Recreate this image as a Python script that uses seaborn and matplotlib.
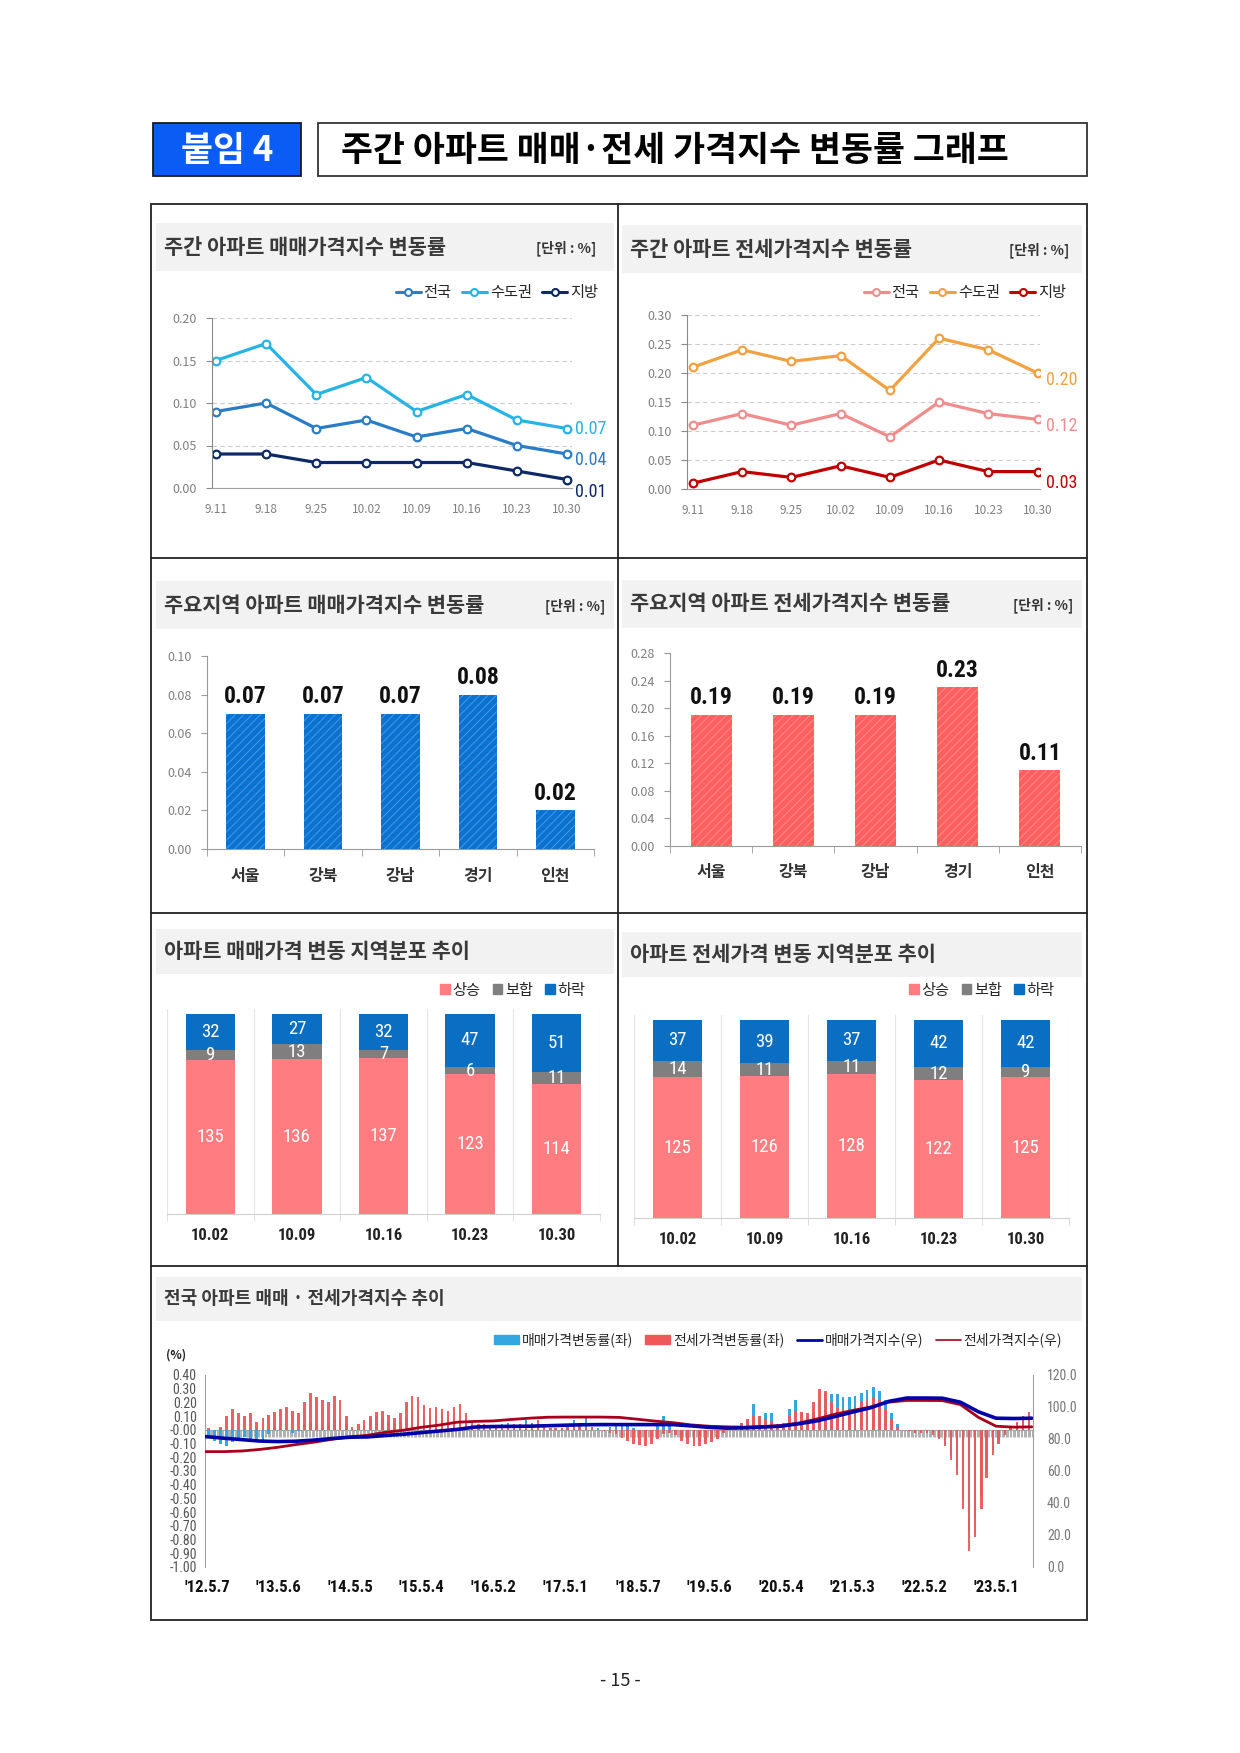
import matplotlib
matplotlib.use('Agg')
import matplotlib.pyplot as plt
from matplotlib import font_manager
from matplotlib.patches import Rectangle, Patch
from matplotlib.lines import Line2D
import seaborn as sns
import pandas as pd
import numpy as np

sns.set_style('white')
plt.rcParams['font.family'] = ['Noto Sans CJK KR', 'DejaVu Sans']
plt.rcParams['axes.unicode_minus'] = False
plt.rcParams['hatch.linewidth'] = 0.7

# narrow font for numbers, if one is installed
_names = {f.name for f in font_manager.fontManager.ttflist}
NARROW = 'DejaVu Sans'
for cand in ['Liberation Sans Narrow', 'Roboto Condensed']:
	if cand in _names:
		NARROW = cand
		break

W, H = 1240, 1753

# ---------------- data ----------------
weeks = ['9.11', '9.18', '9.25', '10.02', '10.09', '10.16', '10.23', '10.30']
sale_all = [0.09, 0.10, 0.07, 0.08, 0.06, 0.07, 0.05, 0.04]
sale_metro = [0.15, 0.17, 0.11, 0.13, 0.09, 0.11, 0.08, 0.07]
sale_local = [0.04, 0.04, 0.03, 0.03, 0.03, 0.03, 0.02, 0.01]
rent_all = [0.11, 0.13, 0.11, 0.13, 0.09, 0.15, 0.13, 0.12]
rent_metro = [0.21, 0.24, 0.22, 0.23, 0.17, 0.26, 0.24, 0.20]
rent_local = [0.01, 0.03, 0.02, 0.04, 0.02, 0.05, 0.03, 0.03]

regions = ['서울', '강북', '강남', '경기', '인천']
sale_region = [0.07, 0.07, 0.07, 0.08, 0.02]
rent_region = [0.19, 0.19, 0.19, 0.23, 0.11]

dist_weeks = ['10.02', '10.09', '10.16', '10.23', '10.30']
sale_up = [135, 136, 137, 123, 114]
sale_flat = [9, 13, 7, 6, 11]
sale_down = [32, 27, 32, 47, 51]
rent_up = [125, 126, 128, 122, 125]
rent_flat = [14, 11, 11, 12, 9]
rent_down = [37, 39, 37, 42, 42]

# weekly change rate (%), read per month, 2012.05 ~ 2023.10
months = pd.date_range('2012-05-01', '2023-10-01', freq='MS')
sale_chg = [
	-0.04, -0.08, -0.10, -0.12, -0.09, -0.06, -0.05, -0.07,                    # 2012
	-0.09, -0.08, -0.03, 0.02, 0.01, 0.00, -0.02, -0.01, 0.04, 0.05, 0.04, 0.03,  # 2013
	0.05, 0.07, 0.08, 0.04, 0.01, 0.00, 0.03, 0.08, 0.10, 0.09, 0.05, 0.04,      # 2014
	0.06, 0.09, 0.12, 0.14, 0.11, 0.10, 0.11, 0.10, 0.09, 0.09, 0.07, 0.04,      # 2015
	0.01, 0.00, 0.01, 0.02, 0.02, 0.04, 0.05, 0.04, 0.04, 0.07, 0.05, 0.02,      # 2016
	0.00, 0.00, 0.01, 0.01, 0.02, 0.07, 0.05, 0.09, 0.02, 0.01, 0.00, 0.02,      # 2017
	0.03, 0.04, 0.03, 0.01, -0.01, -0.02, -0.01, 0.03, 0.10, 0.05, -0.01, -0.04, # 2018
	-0.06, -0.07, -0.08, -0.08, -0.07, -0.05, -0.02, 0.00, 0.02, 0.05, 0.08, 0.19,  # 2019
	0.10, 0.12, 0.12, 0.03, 0.01, 0.15, 0.22, 0.12, 0.10, 0.13, 0.22, 0.27,      # 2020
	0.26, 0.26, 0.24, 0.24, 0.25, 0.27, 0.29, 0.31, 0.28, 0.22, 0.12, 0.04,      # 2021
	0.00, -0.01, -0.02, -0.01, -0.01, -0.03, -0.06, -0.10, -0.18, -0.28, -0.50, -0.74,  # 2022
	-0.65, -0.48, -0.30, -0.15, -0.08, -0.03, 0.01, 0.05, 0.08, 0.07,              # 2023
]
rent_chg = [
	0.01, 0.00, 0.02, 0.10, 0.15, 0.12, 0.10, 0.12,
	0.06, 0.09, 0.11, 0.13, 0.15, 0.17, 0.14, 0.12, 0.20, 0.27, 0.24, 0.22,
	0.20, 0.25, 0.22, 0.10, 0.02, 0.04, 0.07, 0.10, 0.13, 0.14, 0.11, 0.09,
	0.12, 0.20, 0.25, 0.24, 0.18, 0.16, 0.17, 0.15, 0.14, 0.17, 0.19, 0.12,
	0.05, 0.04, 0.04, 0.03, 0.03, 0.03, 0.03, 0.04, 0.04, 0.05, 0.04, 0.07,
	0.03, 0.01, 0.01, 0.01, 0.01, 0.02, 0.02, 0.02, 0.01, 0.00, -0.01, -0.02,
	-0.03, -0.06, -0.08, -0.10, -0.11, -0.12, -0.10, -0.07, -0.03, -0.02, -0.04, -0.08,
	-0.10, -0.12, -0.12, -0.10, -0.09, -0.07, -0.02, 0.00, 0.03, 0.05, 0.08, 0.10,
	0.10, 0.08, 0.06, 0.04, 0.05, 0.10, 0.14, 0.13, 0.12, 0.20, 0.30, 0.28,
	0.20, 0.16, 0.15, 0.13, 0.17, 0.20, 0.22, 0.24, 0.22, 0.15, 0.08, 0.02,
	0.00, -0.01, -0.02, -0.02, -0.02, -0.04, -0.07, -0.12, -0.22, -0.33, -0.58, -0.88,
	-0.78, -0.58, -0.35, -0.18, -0.10, -0.04, 0.02, 0.06, 0.10, 0.13,
]
# price index (right axis), read every 3 months
idx_dates = pd.to_datetime(list(pd.date_range('2012-05-01', '2023-08-01', freq='3MS')) + ['2023-10-30'])
sale_idx = [81.5, 80.5, 79.6, 78.7, 78.4, 78.6, 79.3, 80.3, 81.1, 81.3, 82.2, 83.0,
	84.0, 85.0, 86.0, 87.5, 87.8, 87.9, 88.0, 88.3, 88.6, 88.9, 89.0, 89.0,
	89.0, 89.0, 89.0, 88.2, 87.3, 86.8, 87.0, 87.5, 88.0, 89.5, 91.3, 94.0,
	96.8, 99.5, 103.5, 105.6, 105.6, 105.5, 103.0, 97.0, 93.0, 92.8, 93.0]
rent_idx = [72.1, 72.1, 72.5, 73.5, 74.8, 76.5, 78.0, 79.8, 81.3, 82.3, 84.2, 85.5,
	87.3, 88.7, 90.5, 91.0, 91.3, 92.2, 93.0, 93.6, 93.7, 93.7, 93.7, 93.5,
	92.4, 91.2, 90.2, 88.8, 88.0, 87.6, 87.4, 87.8, 88.4, 90.0, 92.5, 95.5,
	97.8, 100.0, 103.0, 104.1, 104.1, 104.0, 101.5, 93.5, 88.0, 87.4, 87.6]
tick_dates = pd.to_datetime(['2012-05-07', '2013-05-06', '2014-05-05', '2015-05-04', '2016-05-02', '2017-05-01',
	'2018-05-07', '2019-05-06', '2020-05-04', '2021-05-03', '2022-05-02', '2023-05-01'])
tick_labels = ["'12.5.7", "'13.5.6", "'14.5.5", "'15.5.4", "'16.5.2", "'17.5.1",
	"'18.5.7", "'19.5.6", "'20.5.4", "'21.5.3", "'22.5.2", "'23.5.1"]

# colors
C_S_ALL, C_S_METRO, C_S_LOCAL = '#2a7cc7', '#27b3e4', '#0d2a66'
C_R_ALL, C_R_METRO, C_R_LOCAL = '#f08c8c', '#f0a142', '#c00000'
C_UP, C_FLAT, C_DOWN = '#ff7c80', '#7f7f7f', '#0a6fc2'
GRAY_TXT = '#7f7f7f'

fig = plt.figure(figsize=(12.4, 17.53), dpi=100)
fig.patch.set_facecolor('white')


# helpers in page pixel coords (top-left origin)
def box(x0, y0, x1, y1, **kw):
	fig.add_artist(Rectangle((x0/W, 1-y1/H), (x1-x0)/W, (y1-y0)/H, transform=fig.transFigure, **kw))

def hline(x0, x1, y, **kw):
	fig.add_artist(Line2D([x0/W, x1/W], [1-y/H, 1-y/H], transform=fig.transFigure, **kw))

def vline(x, y0, y1, **kw):
	fig.add_artist(Line2D([x/W, x/W], [1-y0/H, 1-y1/H], transform=fig.transFigure, **kw))

def ftext(x, y, s, **kw):
	fig.text(x/W, 1-y/H, s, **kw)

def axes_at(x0, y0, x1, y1):
	return fig.add_axes([x0/W, 1-y1/H, (x1-x0)/W, (y1-y0)/H])

def panel_title(x0, x1, y0, y1, text, unit=None, unit_x=None, size=15):
	box(x0, y0, x1, y1, fc='#f2f2f2', ec='none', zorder=0)
	ftext(x0+8, (y0+y1)/2, text, fontsize=size, fontweight='bold', color='#3a3a3a', va='center')
	if unit:
		ftext(unit_x, (y0+y1)/2+1, unit, fontsize=10, fontweight='bold', color='#333333', va='center')


# ---------------- header ----------------
box(153, 123, 301, 176, fc='#0a5cf5', ec='#1a1a1a', lw=1.3)
ftext(227, 150, '붙임 4', fontsize=25, fontweight='bold', color='white', ha='center', va='center')
box(318, 123, 1087, 176, fc='white', ec='#333333', lw=1.3)
ftext(341, 150, '주간 아파트 매매·전세 가격지수 변동률 그래프', fontsize=25, fontweight='bold', color='black', va='center')

# frame
box(151, 204, 1087, 1620, fc='none', ec='#222222', lw=1.3, zorder=5)
vline(618, 204, 1266, color='#222222', lw=1.3, zorder=5)
for y in [558, 913, 1266]:
	hline(151, 1087, y, color='#222222', lw=1.3, zorder=5)

panel_title(156, 614, 223, 271, '주간 아파트 매매가격지수 변동률', '[단위 : %]', 536)
panel_title(622, 1082, 225, 273, '주간 아파트 전세가격지수 변동률', '[단위 : %]', 1009)
panel_title(156, 614, 581, 629, '주요지역 아파트 매매가격지수 변동률', '[단위 : %]', 545)
panel_title(622, 1082, 580, 628, '주요지역 아파트 전세가격지수 변동률', '[단위 : %]', 1013)
panel_title(156, 614, 929, 974, '아파트 매매가격 변동 지역분포 추이')
panel_title(622, 1082, 932, 977, '아파트 전세가격 변동 지역분포 추이')
panel_title(156, 1082, 1277, 1321, '전국 아파트 매매 · 전세가격지수 추이', size=13)


# ---------------- weekly line charts ----------------
def weekly_lines(ax, series, ymax, step, xlim, end_dy):
	for vals, c, lab in series:
		sns.lineplot(x=list(range(len(weeks))), y=vals, ax=ax, color=c, linewidth=2.3, marker='o', markersize=5.5,
			markerfacecolor='white', markeredgecolor=c, markeredgewidth=1.6, label=lab, legend=False)
	ax.set_xlim(*xlim)
	ax.set_ylim(0, ymax)
	ax.set_yticks(np.arange(0, ymax+1e-9, step))
	ax.set_yticklabels(['%.2f' % v for v in np.arange(0, ymax+1e-9, step)])
	ax.set_xticks(range(len(weeks)))
	ax.set_xticklabels(weeks)
	ax.grid(axis='y', ls=(0, (4, 3)), color='#cccccc', lw=0.8)
	ax.grid(axis='x', visible=False)
	ax.set_axisbelow(True)
	sns.despine(ax=ax)
	ax.spines['left'].set_color('#8a8a8a')
	ax.spines['bottom'].set_color('#a0a0a0')
	ax.tick_params(axis='x', length=0, pad=11, labelsize=8.5, labelcolor=GRAY_TXT)
	ax.tick_params(axis='y', length=4, color='#8a8a8a', left=True, pad=7, labelsize=9, labelcolor=GRAY_TXT)
	ax.set_xlabel('')
	ax.set_ylabel('')
	for (vals, c, lab), dy in zip(series, end_dy):
		ax.annotate('%.2f' % vals[-1], (len(weeks)-1, vals[-1]), xytext=(6, dy), textcoords='offset points',
			va='center', ha='left', color=c, fontsize=13, family=NARROW, annotation_clip=False)

def line_legend(series, cx, cy):
	handles = [Line2D([], [], color=c, lw=2.2, marker='o', ms=5, mfc='white', mec=c, mew=1.5) for _, c, _ in series]
	fig.legend(handles, [lab for _, _, lab in series], loc='center', bbox_to_anchor=(cx/W, 1-cy/H), ncol=3,
		frameon=False, fontsize=11, handlelength=1.6, handletextpad=0.2, columnspacing=0.7)

s1 = [(sale_metro, C_S_METRO, '수도권'), (sale_all, C_S_ALL, '전국'), (sale_local, C_S_LOCAL, '지방')]
ax1 = axes_at(212, 318, 572, 488)
weekly_lines(ax1, s1, 0.20, 0.05, (-0.08, 7.1), [0, -4, -9])
line_legend([s1[1], s1[0], s1[2]], 497, 293)

s2 = [(rent_metro, C_R_METRO, '수도권'), (rent_all, C_R_ALL, '전국'), (rent_local, C_R_LOCAL, '지방')]
ax2 = axes_at(687, 315, 1040, 489)
weekly_lines(ax2, s2, 0.30, 0.05, (-0.12, 7.05), [-5, -5, -8])
line_legend([s2[1], s2[0], s2[2]], 965, 293)


# ---------------- regional bar charts ----------------
def region_bars(ax, vals, color, hatch_color, ymax, step, pad):
	sns.barplot(x=regions, y=vals, ax=ax, color=color, saturation=1, width=0.5, errorbar=None,
		hatch='////', edgecolor=hatch_color, linewidth=0)
	ax.set_xlim(-0.5, len(regions)-0.5)
	ax.set_ylim(0, ymax)
	ticks = np.arange(0, ymax+1e-9, step)
	ax.set_yticks(ticks)
	ax.set_yticklabels(['%.2f' % v for v in ticks])
	ax.set_xticks(np.arange(-0.5, len(regions)), minor=True)
	sns.despine(ax=ax)
	ax.spines['left'].set_color('#9a9a9a')
	ax.spines['bottom'].set_color('#9a9a9a')
	ax.tick_params(axis='x', which='major', length=0, pad=pad, labelsize=11.5, labelcolor='#333333')
	ax.tick_params(axis='x', which='minor', length=5, color='#9a9a9a', bottom=True)
	ax.tick_params(axis='y', length=4, color='#9a9a9a', left=True, pad=7, labelsize=9, labelcolor=GRAY_TXT)
	for lab in ax.get_xticklabels():
		lab.set_fontweight('bold')
	ax.set_xlabel('')
	ax.set_ylabel('')
	for i, v in enumerate(vals):
		ax.annotate('%.2f' % v, (i, v), xytext=(0, 4), textcoords='offset points', ha='center', va='bottom',
			fontsize=17, fontweight='bold', family=NARROW, color='#111111')

ax3 = axes_at(207, 656, 594, 849)
region_bars(ax3, sale_region, '#0a72cf', '#4a9ae3', 0.10, 0.02, 14)
ax4 = axes_at(670, 653, 1081, 846)
region_bars(ax4, rent_region, '#ff5f5f', '#ff8c8c', 0.28, 0.04, 13)


# ---------------- regional distribution (stacked) ----------------
def dist_bars(ax, up, flat, down):
	total = [u+f+d for u, f, d in zip(up, flat, down)]
	mid = [u+f for u, f in zip(up, flat)]
	sns.barplot(x=dist_weeks, y=total, ax=ax, color=C_DOWN, saturation=1, width=0.57, errorbar=None, linewidth=0)
	sns.barplot(x=dist_weeks, y=mid, ax=ax, color=C_FLAT, saturation=1, width=0.57, errorbar=None, linewidth=0)
	sns.barplot(x=dist_weeks, y=up, ax=ax, color=C_UP, saturation=1, width=0.57, errorbar=None, linewidth=0)
	ax.set_xlim(-0.5, len(dist_weeks)-0.5)
	ax.set_ylim(0, 180)
	ax.set_yticks([])
	ax.set_xticks(np.arange(-0.5, len(dist_weeks)), minor=True)
	ax.grid(axis='x', which='minor', color='#e3e3e3', lw=0.8)
	ax.grid(axis='x', which='major', visible=False)
	ax.set_axisbelow(True)
	for s in ['top', 'right', 'left']:
		ax.spines[s].set_visible(False)
	ax.spines['bottom'].set_color('#d0d0d0')
	ax.tick_params(axis='x', which='major', length=0, pad=10, labelsize=12, labelcolor='#222222')
	ax.tick_params(axis='x', which='minor', length=5, color='#d8d8d8', bottom=True)
	for lab in ax.get_xticklabels():
		lab.set_fontweight('bold')
		lab.set_family(NARROW)
	ax.set_xlabel('')
	ax.set_ylabel('')
	for i in range(len(dist_weeks)):
		for y, v in [(up[i]/2, up[i]), (up[i]+flat[i]/2, flat[i]), (mid[i]+down[i]/2, down[i])]:
			ax.text(i, y, str(v), ha='center', va='center', color='white', fontsize=13.5, family=NARROW)

def dist_legend(cx, cy):
	handles = [Patch(color=c) for c in [C_UP, C_FLAT, C_DOWN]]
	fig.legend(handles, ['상승', '보합', '하락'], loc='center', bbox_to_anchor=(cx/W, 1-cy/H), ncol=3,
		frameon=False, fontsize=11, handlelength=0.6, handleheight=0.6, handletextpad=0.2, columnspacing=0.8)

ax5 = axes_at(167, 1009, 600, 1214)
dist_bars(ax5, sale_up, sale_flat, sale_down)
dist_legend(513, 990)
ax6 = axes_at(634, 1015, 1069, 1218)
dist_bars(ax6, rent_up, rent_flat, rent_down)
dist_legend(982, 990)


# ---------------- long-term index chart ----------------
ax7 = axes_at(205, 1375, 1033, 1567)
bar_x = months + pd.Timedelta(days=14)
ax7.bar(bar_x, sale_chg, width=13, color='#33a8e0', linewidth=0)
ax7.bar(bar_x, rent_chg, width=13, color='#ef5759', linewidth=0, alpha=0.95)
ax7.set_xlim(pd.Timestamp('2012-04-27'), pd.Timestamp('2023-11-05'))
ax7.set_ylim(-1.0, 0.4)
yt = np.round(np.arange(-1.0, 0.41, 0.1), 2)
ax7.set_yticks(yt)
ax7.set_yticklabels(['%.2f' % v for v in yt])
ax7.set_xticks(tick_dates)
ax7.set_xticklabels(tick_labels)
for s in ['top', 'right', 'bottom']:
	ax7.spines[s].set_visible(False)
ax7.spines['left'].set_color('#a0a0a0')
ax7.tick_params(axis='x', length=0, pad=9, labelsize=12, labelcolor='#111111')
ax7.tick_params(axis='y', length=0, pad=6, labelsize=10, labelcolor='#555555')
for lab in ax7.get_xticklabels():
	lab.set_fontweight('bold')
	lab.set_family(NARROW)
for lab in ax7.get_yticklabels():
	lab.set_family(NARROW)

# zero line with a comb of week marks, like the category axis
zero_pos = (0 - (-1.0)) / 1.4
sec = ax7.secondary_xaxis(zero_pos)
sec.set_xticks(pd.date_range('2012-05-07', '2023-10-30', freq='7D'))
sec.tick_params(axis='x', direction='in', length=5, width=0.6, color='#a3a3a3', labeltop=False, labelbottom=False)
sec.spines['top'].set_color('#a3a3a3')
sec.spines['top'].set_linewidth(0.8)

ax7b = ax7.twinx()
sns.lineplot(x=idx_dates, y=rent_idx, ax=ax7b, color='#a8001c', linewidth=2.0)
sns.lineplot(x=idx_dates, y=sale_idx, ax=ax7b, color='#0000a8', linewidth=2.6)
ax7b.set_ylim(0, 120)
ax7b.set_yticks(np.arange(0, 121, 20))
ax7b.set_yticklabels(['%.1f' % v for v in np.arange(0, 121, 20)])
for s in ['top', 'left', 'bottom']:
	ax7b.spines[s].set_visible(False)
ax7b.spines['right'].set_color('#a0a0a0')
ax7b.tick_params(axis='y', length=0, pad=10, labelsize=10, labelcolor='#777777')
for lab in ax7b.get_yticklabels():
	lab.set_family(NARROW)
ax7b.set_ylabel('')
ax7b.set_xlabel('')
ax7.set_xlim(pd.Timestamp('2012-04-27'), pd.Timestamp('2023-11-05'))

ftext(176, 1355, '(%)', fontsize=8.5, fontweight='bold', color='#222222', ha='center', va='center')

leg_handles = [Patch(color='#33a8e0'), Patch(color='#ef5759'),
	Line2D([], [], color='#0000a8', lw=2), Line2D([], [], color='#a8001c', lw=1.2)]
fig.legend(leg_handles, ['매매가격변동률(좌)', '전세가격변동률(좌)', '매매가격지수(우)', '전세가격지수(우)'],
	loc='center', bbox_to_anchor=(778/W, 1-1340/H), ncol=4, frameon=False, fontsize=10,
	handlelength=1.8, handleheight=0.6, handletextpad=0.2, columnspacing=0.9)

# page number
ftext(620, 1681, '- 15 -', fontsize=13, color='#222222', ha='center', va='center')

fig.savefig('out.png', dpi=100, facecolor='white')
